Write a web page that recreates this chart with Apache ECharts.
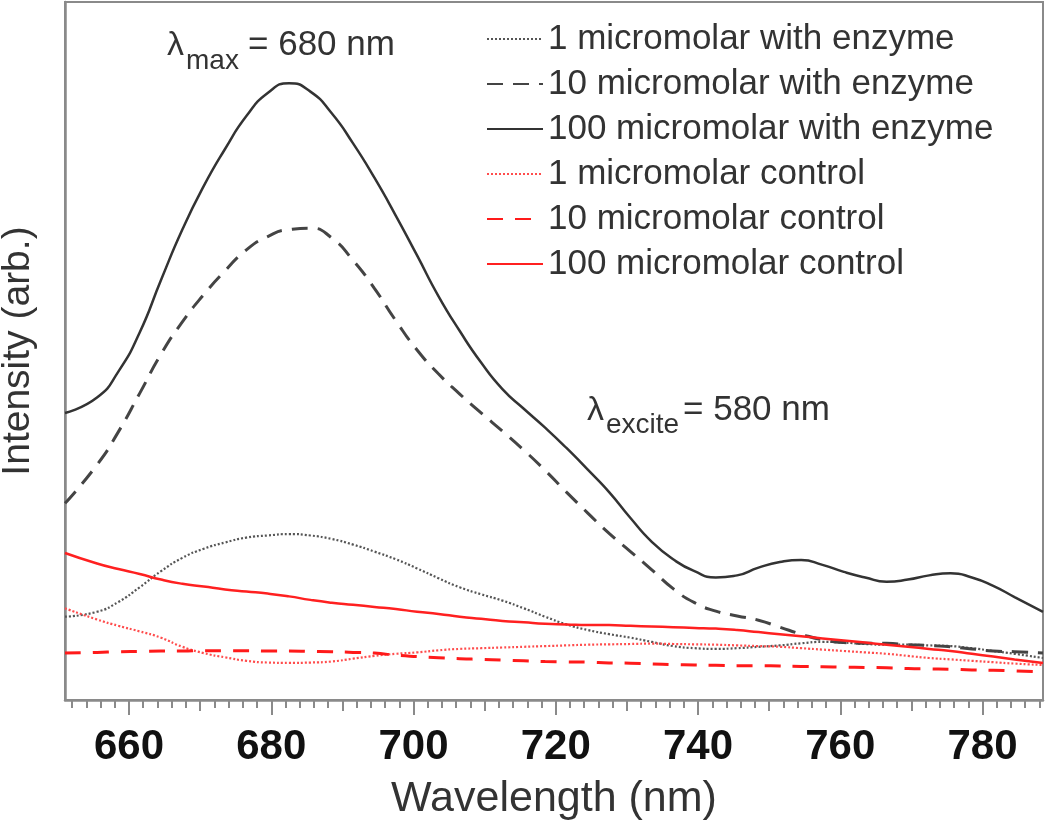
<!DOCTYPE html>
<html>
<head>
<meta charset="utf-8">
<script src="https://cdn.jsdelivr.net/npm/echarts@6/dist/echarts.min.js"></script>
<style>
html,body{margin:0;padding:0;background:#fff;}
#chart{width:1050px;height:828px;}
</style>
</head>
<body>
<div id="chart"></div>
<script>
// ---- data ----
var wavelength = [651,655.5,658.5,661.5,664.5,667.5,670.5,673.5,676.5,679.5,682.5,685.5,688.5,691.5,694.5,697.5,700.5,703.5,706.5,709.5,712.5,715.5,718.5,721.5,724.5,727.5,730.5,733.5,736.5,739.5,742.5,745.5,748.5,751.5,754.5,757.5,760.5,763.5,766.5,769.5,772.5,775.5,778.5,781.5,784.5,788.5];

var enzyme1 = [11.9,12.6,14.0,16.1,18.4,20.3,21.6,22.5,23.2,23.5,23.7,23.5,23.0,22.2,21.2,20.1,18.8,17.4,16.1,15.1,14.2,13.1,11.9,10.8,10.0,9.4,8.9,8.3,7.7,7.4,7.3,7.4,7.6,7.8,8.1,8.3,8.2,8.0,7.9,7.9,7.8,7.7,7.4,7.0,6.6,6.0];
var enzyme10 = [28.1,33.6,38.3,43.8,49.4,54.0,57.9,61.3,64.3,66.2,67.2,67.4,66.0,62.8,58.8,54.2,50.0,46.6,43.7,41.0,38.4,35.7,32.8,29.7,26.7,23.8,21.2,18.6,15.9,13.9,12.7,12.0,11.4,10.4,9.4,8.6,8.2,8.1,8.1,7.9,7.8,7.6,7.3,7.0,6.9,6.7];
var enzyme100 = [41.0,43.2,46.9,52.5,60.0,67.2,73.4,78.7,83.4,86.7,88.1,86.9,83.8,79.5,74.6,69.2,63.5,57.7,52.7,48.2,44.4,41.6,38.9,36.0,32.9,29.7,26.0,22.6,20.1,18.4,17.5,17.8,18.9,19.7,20.0,19.3,18.3,17.5,16.9,17.2,17.8,18.1,17.5,16.3,14.7,12.6];
var control1 = [13.1,11.5,10.6,9.8,8.9,7.6,6.7,6.1,5.6,5.35,5.3,5.35,5.5,5.9,6.3,6.6,6.8,7.1,7.3,7.4,7.5,7.6,7.7,7.8,7.9,7.95,8.0,8.05,8.0,7.95,7.9,7.8,7.7,7.6,7.4,7.2,7.0,6.8,6.6,6.3,6.0,5.8,5.6,5.4,5.2,5.0];
var control10 = [6.7,6.8,6.9,6.95,7.0,7.0,7.05,7.05,7.05,7.0,7.0,6.95,6.9,6.8,6.7,6.4,6.2,6.05,5.9,5.8,5.7,5.6,5.5,5.45,5.4,5.3,5.25,5.15,5.05,5.0,4.95,4.9,4.9,4.85,4.8,4.75,4.7,4.65,4.6,4.5,4.45,4.4,4.3,4.25,4.15,4.0];
var control100 = [21.0,19.5,18.7,18.0,17.2,16.6,16.2,15.8,15.5,15.2,14.8,14.3,13.9,13.6,13.3,13.0,12.6,12.3,11.9,11.6,11.3,11.1,10.9,10.8,10.7,10.7,10.6,10.5,10.4,10.3,10.2,10.0,9.7,9.4,9.1,8.8,8.5,8.2,7.9,7.6,7.3,7.0,6.6,6.2,5.8,5.3];

var seriesNames = ['1 micromolar with enzyme','10 micromolar with enzyme','100 micromolar with enzyme','1 micromolar control','10 micromolar control','100 micromolar control'];

var majorTicks = [660,680,700,720,740,760,780];
var mediumTicks = [670,690,710,730,750,770];
var minorTicks = [652,654,656,658,660,662,664,666,668,670,672,674,676,678,680,682,684,686,688,690,692,694,696,698,700,702,704,706,708,710,712,714,716,718,720,722,724,726,728,730,732,734,736,738,740,742,744,746,748,750,752,754,756,758,760,762,764,766,768,770,772,774,776,778,780,782,784,786,788];

var xMin = 651, xMax = 788.5;
// ---------------------------------------------------

function pairs(vals){ return wavelength.map(function(w,i){ return [w, vals[i]]; }); }

var FONT = 'Liberation Sans, Arial, sans-serif';
var AX = '#8a8a8a';
var gridBox = {left:65, right:7, top:2, bottom:128};

function mkGrid(show){ return Object.assign({show:show, borderColor:AX, borderWidth:2, backgroundColor:'transparent', containLabel:false, outerBoundsMode:'none'}, gridBox); }

var chart = echarts.init(document.getElementById('chart'), null, {renderer:'canvas'});

var styles = [
  {color:'#555', width:2.2, type:[2,2]},
  {color:'#444', width:3, type:[16,10]},
  {color:'#333', width:2.5, type:'solid'},
  {color:'#ff4d4d', width:2.2, type:[2,2]},
  {color:'#ff1a1a', width:3, type:[16,12]},
  {color:'#ff2020', width:2.5, type:'solid'}
];
var dataSets = [enzyme1, enzyme10, enzyme100, control1, control10, control100];

var series = dataSets.map(function(d, i){
  return {
    name: seriesNames[i],
    type: 'line',
    xAxisIndex: 0, yAxisIndex: 0,
    data: pairs(d),
    smooth: 0.55,
    showSymbol: false,
    symbol: 'none',
    lineStyle: {color: styles[i].color, width: styles[i].width, type: styles[i].type},
    itemStyle: {color: styles[i].color},
    emphasis: {disabled: true},
    animation: false
  };
});

var option = {
  backgroundColor: '#fff',
  animation: false,
  grid: [mkGrid(true), mkGrid(false), mkGrid(false)],
  xAxis: [
    {
      gridIndex: 0, type: 'value', min: xMin, max: xMax,
      axisLine: {show: true, lineStyle: {color: AX, width: 2.5}},
      axisTick: {show: true, inside: false, length: 15, customValues: majorTicks, lineStyle: {color: AX, width: 2}},
      axisLabel: {show: true, customValues: majorTicks, margin: 26, fontSize: 42, fontWeight: 'bold', color: '#111', fontFamily: FONT},
      splitLine: {show: false},
      name: 'Wavelength (nm)', nameLocation: 'middle', nameGap: 78,
      nameTextStyle: {fontSize: 43, color: '#333', fontFamily: FONT}
    },
    {
      gridIndex: 1, type: 'value', min: xMin, max: xMax,
      axisLine: {show: false},
      axisTick: {show: true, length: 8, customValues: minorTicks, lineStyle: {color: AX, width: 2}},
      axisLabel: {show: false},
      splitLine: {show: false}
    },
    {
      gridIndex: 2, type: 'value', min: xMin, max: xMax,
      axisLine: {show: false},
      axisTick: {show: true, length: 11, customValues: mediumTicks, lineStyle: {color: AX, width: 2}},
      axisLabel: {show: false},
      splitLine: {show: false}
    }
  ],
  yAxis: [
    {
      gridIndex: 0, type: 'value', min: 0, max: 99.7,
      axisLine: {show: true, lineStyle: {color: AX, width: 2.5}},
      axisTick: {show: false}, axisLabel: {show: false}, splitLine: {show: false},
      name: 'Intensity (arb.)', nameLocation: 'middle', nameGap: 27,
      nameTextStyle: {fontSize: 39, color: '#333', fontFamily: FONT}
    },
    {gridIndex: 1, type: 'value', min: 0, max: 99.7, show: false},
    {gridIndex: 2, type: 'value', min: 0, max: 99.7, show: false}
  ],
  legend: {
    orient: 'vertical',
    left: 481, top: 16,
    itemWidth: 56, itemHeight: 14, itemGap: 9,
    itemStyle: {opacity: 0},
    textStyle: {fontSize: 35, lineHeight: 36, color: '#333', fontFamily: FONT},
    data: seriesNames,
    selectedMode: false
  },
  graphic: [
    {type:'text', left: 167, top: 29, style:{text:'λ', fontSize: 34, fontFamily: FONT, fill:'#333'}},
    {type:'text', left: 186, top: 47, style:{text:'max', fontSize: 28, fontFamily: FONT, fill:'#333'}},
    {type:'text', left: 248, top: 28, style:{text:'= 680 nm', fontSize: 35, fontFamily: FONT, fill:'#333'}},
    {type:'text', left: 587, top: 394, style:{text:'λ', fontSize: 34, fontFamily: FONT, fill:'#333'}},
    {type:'text', left: 606, top: 411, style:{text:'excite', fontSize: 28, fontFamily: FONT, fill:'#333'}},
    {type:'text', left: 683, top: 393, style:{text:'= 580 nm', fontSize: 35, fontFamily: FONT, fill:'#333'}}
  ],
  series: series
};

chart.setOption(option);
</script>
</body>
</html>
